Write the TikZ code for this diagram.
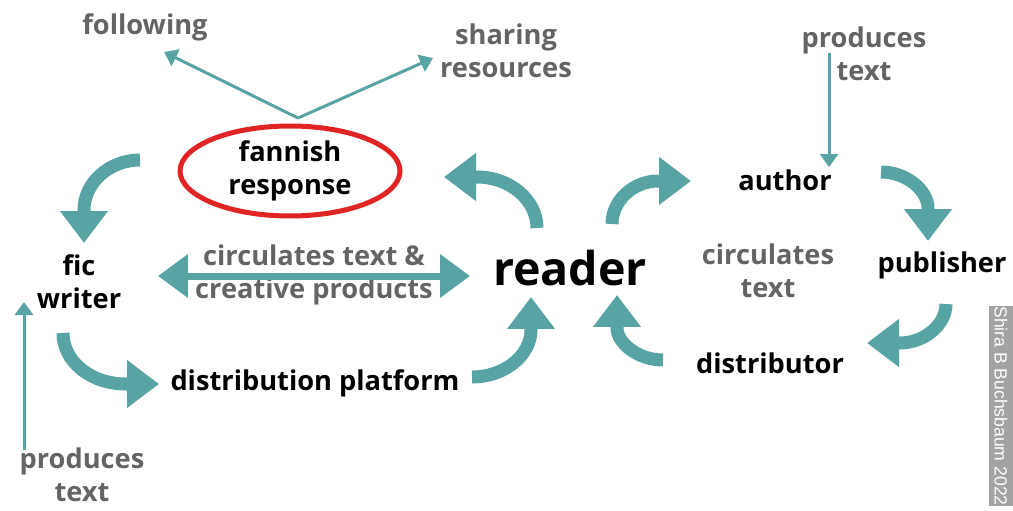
\documentclass[tikz,border=0pt]{standalone}
\usepackage{fontspec}
\setmainfont{Open Sans}
\newfontfamily\wmfont{Liberation Sans}
\usetikzlibrary{arrows.meta,shapes.geometric}
\definecolor{teal1}{HTML}{58A4A4}
\definecolor{txtgray}{HTML}{646464}
\definecolor{ovalred}{HTML}{E02424}
\definecolor{wmgray}{HTML}{A3A3A3}
\begin{document}
\begin{tikzpicture}[x=0.02cm,y=-0.02cm,
  blk/.style={font=\fontsize{15.5}{19}\selectfont\bfseries, text=black, align=center, inner sep=0pt},
  gry/.style={blk, text=txtgray},
  bigarrow/.style={draw=teal1, line width=0.26cm, -{Triangle[width=0.92cm,length=0.64cm]}},
  dblarrow/.style={draw=teal1, line width=0.14cm, {Triangle[width=0.84cm,length=0.6cm]}-{Triangle[width=0.84cm,length=0.6cm]}},
  thinarrow/.style={draw=teal1, line width=0.06cm, -{Triangle[width=0.36cm,length=0.26cm]}}]
\useasboundingbox (0,0) rectangle (1013,510);

% labels
\node[gry] (following) at (145,27) {following};
\node[gry] (sharing) at (506,51) {sharing\\resources};
\node[blk, ellipse, draw=ovalred, line width=0.1cm, minimum width=4.4cm, minimum height=1.8cm] (fannish) at (290,171) {fannish\\response};
\node[blk] (fic) at (79,282) {fic\\writer};
\node[blk, font=\fontsize{26.5}{31}\selectfont\bfseries] (reader) at (570,268) {reader};
\node[gry] (circ) at (314,275) {circulates text \&\\creative products};
\node[blk] (dist) at (315,383) {distribution platform};
\node[gry] (prodL) at (82,475) {produces\\text};
\node[gry] (prodR) at (864,54) {produces\\text};
\node[blk] (author) at (785,180) {author};
\node[blk] (publisher) at (942,265) {publisher};
\node[gry] (circR) at (768,271) {circulates\\text};
\node[blk] (distributor) at (770,363) {distributor};
\node[fill=wmgray, rotate=-90, text=white, font=\wmfont\fontsize{10}{12}\selectfont, minimum width=3.76cm, minimum height=0.48cm, inner sep=0pt] (wm) at (1001,406) {Shira B Buchsbaum 2022};

% coordinates
\coordinate (apex) at (298,118);
\coordinate (folTip) at (164,52);
\coordinate (shTip) at (433,58);
\coordinate (prodRs) at (829,53);
\coordinate (prodRe) at (829,167);
\coordinate (prodLs) at (24,450);
\coordinate (prodLe) at (24,302);
\coordinate (circL) at (158,276);
\coordinate (circRt) at (470,276);

% thin arrows
\draw[thinarrow] (apex) -- (folTip);
\draw[thinarrow] (apex) -- (shTip);
\draw[thinarrow] (prodRs) -- (prodRe);
\draw[thinarrow] (prodLs) -- (prodLe);

% double arrow
\draw[dblarrow] (circL) -- (circRt);

% big curved arrows
\coordinate (a1s) at (140,160); \coordinate (a1e) at (84,243);
\draw[bigarrow] (a1s) .. controls (109,160) and (84,183) .. (84,210) -- (a1e);
\coordinate (a2s) at (537,228); \coordinate (a2e) at (444,177);
\draw[bigarrow] (a2s) .. controls (537,200) and (510,177) .. (477,177) -- (a2e);
\coordinate (a3s) at (612,224); \coordinate (a3e) at (691,181);
\draw[bigarrow] (a3s) .. controls (612,200) and (634,181) .. (658,181) -- (a3e);
\coordinate (a4s) at (881,172); \coordinate (a4e) at (928,241);
\draw[bigarrow] (a4s) .. controls (907,172) and (928,191) .. (928,208) -- (a4e);
\coordinate (a5s) at (946,304); \coordinate (a5e) at (867,343);
\draw[bigarrow] (a5s) .. controls (946,325) and (924,343) .. (900,343) -- (a5e);
\coordinate (a6s) at (663,360); \coordinate (a6e) at (617,295);
\draw[bigarrow] (a6s) .. controls (638,360) and (617,343) .. (617,328) -- (a6e);
\coordinate (a7s) at (63,333); \coordinate (a7e) at (159,384);
\draw[bigarrow] (a7s) .. controls (63,361) and (90,384) .. (126,384) -- (a7e);
\coordinate (a8s) at (472,377); \coordinate (a8e) at (531,297);
\draw[bigarrow] (a8s) .. controls (505,377) and (531,355) .. (531,330) -- (a8e);
\end{tikzpicture}
\end{document}
